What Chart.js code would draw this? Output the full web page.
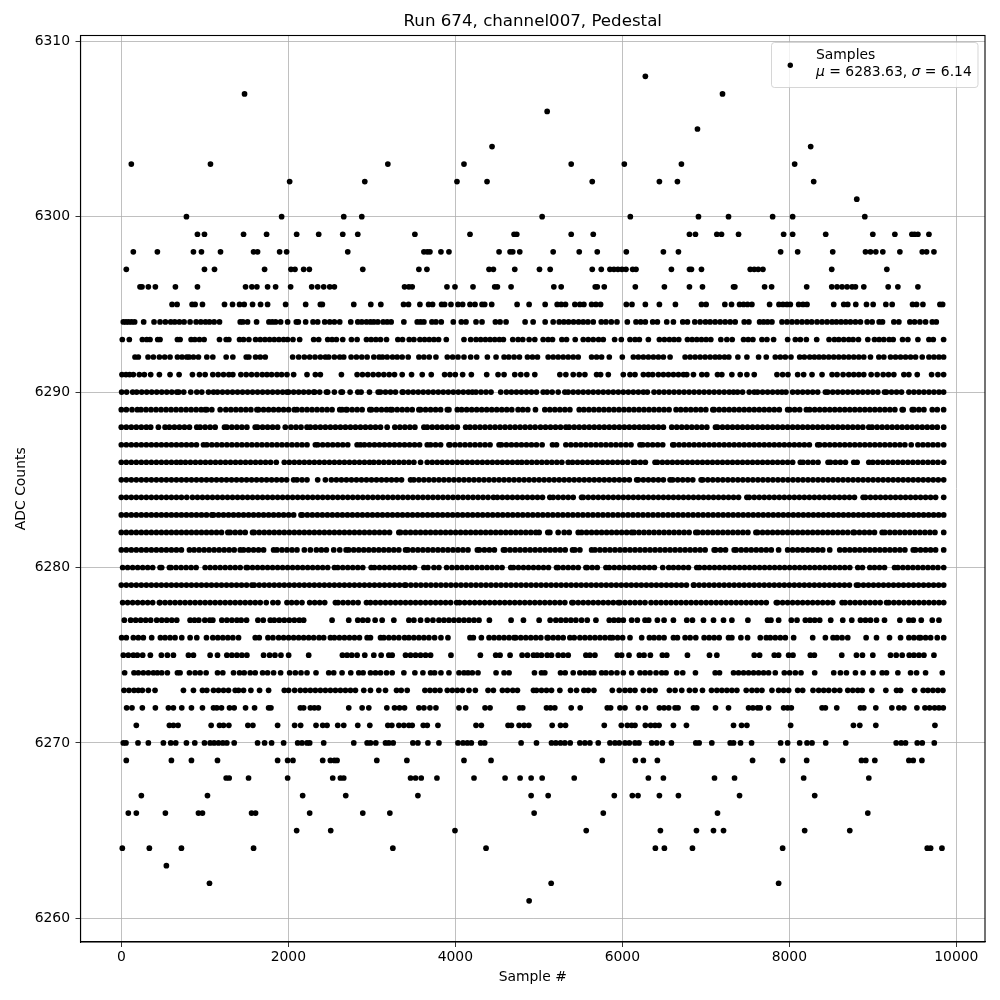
<!DOCTYPE html>
<html>
<head>
<meta charset="utf-8">
<script src="https://cdn.jsdelivr.net/npm/chart.js@4"></script>
<style>
body { margin: 0; background: #fff; }
canvas { display: block; }
</style>
</head>
<body>
<canvas id="miGrafica" width="1000" height="1000"></canvas>
<script>
const xTicks = [0, 2000, 4000, 6000, 8000, 10000];
const yTicks = [6260, 6270, 6280, 6290, 6300, 6310];
const titulo = "Run 674, channel007, Pedestal";
const etiquetaSerie = "Samples";
const media = "6283.63";
const sigma = "6.14";

// sample numbers, one list per ADC value
const adc6308 = [6276];
const adc6307 = [1476, 7200];
const adc6306 = [5100];
const adc6305 = [6900];
const adc6304 = [4440, 8256];
const adc6303 = [120, 1068, 3192, 4104, 5388, 6024, 6708, 8064];
const adc6302 = [2016, 2916, 4020, 4380, 5640, 6444, 6660, 8292];
const adc6301 = [8808];
const adc6300 = [780, 1920, 2664, 2880, 5040, 6096, 6912, 7272, 7800, 8040, 8904];
const adc6299 = [912, 996, 1464, 1740, 2100, 2364, 2652, 2832, 3516, 4176, 4704, 4736, 5388, 5652, 6804, 6876, 7132, 7188, 7392, 7932, 8040, 8436, 9000, 9264, 9468, 9500, 9540, 9672];
const adc6298 = [144, 432, 864, 960, 1188, 1584, 1632, 1896, 1980, 2712, 3624, 3664, 3696, 3828, 3924, 4524, 4656, 4688, 4772, 5172, 5484, 5700, 6048, 6492, 6672, 7896, 8100, 8520, 8912, 8972, 9036, 9120, 9324, 9592, 9644, 9732];
const adc6297 = [60, 996, 1116, 1716, 2032, 2080, 2184, 2252, 2892, 3564, 3660, 4404, 4456, 4712, 5008, 5136, 5640, 5748, 5852, 5900, 5948, 5996, 6044, 6124, 6164, 6588, 6804, 6828, 6948, 7532, 7580, 7628, 7684, 8508, 9168];
const adc6296 = [224, 248, 324, 408, 648, 912, 1488, 1564, 1624, 1752, 1848, 2028, 2280, 2352, 2424, 2496, 2552, 3392, 3444, 3484, 3900, 3996, 4212, 4472, 4504, 4668, 5180, 5268, 5676, 5700, 5784, 6156, 6504, 6804, 6960, 7332, 7348, 7704, 7788, 8208, 8508, 8572, 8632, 8692, 8752, 8792, 8892, 9184, 9300, 9540];
const adc6295 = [608, 668, 848, 884, 972, 1236, 1332, 1416, 1472, 1572, 1668, 1752, 1968, 2208, 2384, 2408, 2784, 2988, 3108, 3380, 3440, 3576, 3680, 3728, 3836, 3872, 3948, 4032, 4088, 4176, 4236, 4320, 4352, 4436, 4740, 4884, 5076, 5220, 5268, 5320, 5432, 5492, 5540, 5632, 5684, 5740, 6048, 6116, 6276, 6444, 6636, 6948, 7004, 7228, 7308, 7404, 7452, 7500, 7552, 7764, 7876, 7924, 7972, 8012, 8112, 8164, 8212, 8532, 8652, 8700, 8796, 8924, 9004, 9156, 9232, 9476, 9524, 9600, 9804, 9836];
const adc6294 = [24, 56, 88, 124, 160, 268, 392, 464, 528, 592, 640, 696, 752, 824, 896, 952, 1008, 1056, 1112, 1176, 1424, 1456, 1512, 1620, 1768, 1808, 1848, 1908, 1992, 2096, 2120, 2208, 2296, 2352, 2436, 2496, 2552, 2616, 2748, 2832, 2880, 2936, 2984, 3024, 3072, 3136, 3184, 3232, 3384, 3544, 3584, 3624, 3720, 3768, 3832, 3976, 4072, 4128, 4248, 4320, 4480, 4536, 4608, 4836, 4932, 5076, 5172, 5244, 5300, 5356, 5416, 5476, 5532, 5588, 5652, 5748, 5804, 5868, 5936, 6060, 6164, 6220, 6276, 6364, 6420, 6532, 6612, 6724, 6780, 6868, 6932, 6996, 7052, 7112, 7172, 7232, 7292, 7352, 7460, 7516, 7644, 7692, 7740, 7792, 7912, 7972, 8032, 8092, 8152, 8212, 8268, 8332, 8392, 8452, 8512, 8564, 8620, 8676, 8732, 8792, 8852, 8932, 8992, 9076, 9116, 9252, 9312, 9444, 9500, 9564, 9632, 9712, 9760];
const adc6293 = [12, 96, 252, 304, 344, 436, 464, 672, 704, 836, 880, 936, 992, 1176, 1256, 1288, 1416, 1464, 1528, 1608, 1664, 1720, 1776, 1832, 1888, 1944, 1992, 2056, 2136, 2304, 2364, 2472, 2524, 2576, 2652, 2756, 2824, 2936, 2992, 3048, 3104, 3176, 3312, 3368, 3448, 3504, 3576, 3632, 3688, 3744, 3800, 3892, 4104, 4184, 4248, 4304, 4360, 4416, 4472, 4528, 4576, 4688, 4752, 4808, 4884, 4952, 5052, 5112, 5164, 5276, 5332, 5436, 5532, 5592, 5652, 5716, 5772, 5908, 5988, 6092, 6152, 6204, 6312, 6444, 6504, 6564, 6620, 6676, 6780, 6836, 6892, 6948, 7004, 7060, 7180, 7252, 7316, 7452, 7508, 7564, 7672, 7732, 7812, 7980, 8072, 8132, 8204, 8328, 8476, 8540, 8592, 8652, 8712, 8764, 8828, 8940, 9020, 9076, 9132, 9196, 9244, 9356, 9420, 9540, 9672, 9724, 9848];
const adc6292 = [164, 204, 320, 384, 456, 520, 584, 672, 728, 784, 812, 864, 924, 1024, 1096, 1256, 1336, 1496, 1528, 1608, 1664, 1724, 2052, 2124, 2192, 2256, 2320, 2384, 2444, 2484, 2552, 2616, 2664, 2752, 2816, 2880, 2944, 3024, 3088, 3128, 3184, 3248, 3304, 3364, 3436, 3564, 3624, 3688, 3768, 3904, 3968, 4032, 4104, 4184, 4256, 4384, 4488, 4584, 4640, 4704, 4768, 4864, 4924, 4984, 5112, 5172, 5232, 5292, 5352, 5412, 5472, 5632, 5692, 5752, 5844, 6000, 6132, 6192, 6252, 6312, 6372, 6432, 6492, 6572, 6752, 6812, 6872, 6932, 6992, 7052, 7112, 7164, 7224, 7276, 7384, 7492, 7632, 7724, 7832, 7892, 7952, 8020, 8124, 8180, 8244, 8300, 8356, 8412, 8472, 8532, 8592, 8652, 8712, 8772, 8832, 8892, 8972, 9072, 9132, 9212, 9272, 9332, 9392, 9452, 9512, 9592, 9672, 9732, 9792, 9848];
const adc6291 = [8, 56, 100, 144, 216, 276, 352, 456, 584, 692, 852, 936, 1004, 1096, 1160, 1224, 1288, 1336, 1432, 1496, 1560, 1624, 1688, 1744, 1800, 1864, 1920, 1984, 2064, 2224, 2324, 2384, 2636, 2824, 2888, 2952, 3016, 3080, 3144, 3208, 3272, 3364, 3476, 3604, 3712, 3872, 3936, 4000, 4088, 4192, 4376, 4512, 4584, 4712, 4784, 4856, 4952, 5252, 5324, 5412, 5484, 5552, 5692, 5740, 5832, 6012, 6092, 6152, 6252, 6312, 6364, 6432, 6492, 6552, 6612, 6672, 6732, 6772, 6852, 6952, 7012, 7140, 7192, 7312, 7412, 7492, 7580, 7852, 7920, 7984, 8100, 8172, 8272, 8392, 8512, 8572, 8644, 8712, 8772, 8832, 8892, 8980, 9052, 9124, 9188, 9252, 9372, 9432, 9532, 9704, 9780, 9848];
const adc6290 = [4, 64, 136, 184, 244, 304, 364, 424, 484, 544, 604, 664, 688, 748, 832, 904, 964, 1044, 1104, 1152, 1212, 1272, 1332, 1392, 1452, 1512, 1572, 1632, 1692, 1752, 1812, 1872, 1932, 1984, 2004, 2064, 2124, 2184, 2244, 2304, 2316, 2376, 2456, 2472, 2552, 2632, 2648, 2740, 2832, 2872, 2972, 3076, 3104, 3164, 3224, 3284, 3364, 3376, 3436, 3496, 3556, 3616, 3676, 3736, 3796, 3856, 3916, 3976, 4036, 4096, 4156, 4204, 4248, 4308, 4368, 4428, 4544, 4612, 4672, 4732, 4792, 4852, 4912, 4972, 5052, 5100, 5160, 5232, 5312, 5352, 5412, 5472, 5532, 5592, 5652, 5712, 5772, 5832, 5892, 5952, 6012, 6072, 6132, 6192, 6252, 6300, 6380, 6440, 6500, 6560, 6620, 6680, 6740, 6800, 6860, 6920, 6980, 7040, 7100, 7160, 7220, 7280, 7332, 7380, 7440, 7520, 7580, 7620, 7680, 7740, 7800, 7860, 7912, 7960, 8040, 8100, 8160, 8220, 8280, 8340, 8432, 8460, 8520, 8580, 8640, 8700, 8760, 8820, 8880, 8940, 9000, 9060, 9140, 9164, 9224, 9284, 9344, 9432, 9492, 9552, 9612, 9672, 9732, 9792, 9848];
const adc6289 = [0, 60, 128, 192, 236, 296, 356, 416, 476, 536, 596, 656, 716, 776, 836, 896, 956, 1004, 1024, 1084, 1184, 1252, 1312, 1372, 1432, 1492, 1552, 1624, 1644, 1704, 1764, 1824, 1884, 1944, 2004, 2072, 2104, 2164, 2224, 2284, 2344, 2404, 2464, 2524, 2616, 2644, 2692, 2704, 2764, 2824, 2884, 2976, 2996, 3056, 3116, 3176, 3224, 3244, 3304, 3364, 3424, 3484, 3564, 3584, 3644, 3704, 3764, 3824, 3904, 3924, 4024, 4076, 4136, 4196, 4256, 4316, 4376, 4436, 4496, 4556, 4616, 4676, 4752, 4808, 4868, 4960, 5072, 5132, 5192, 5252, 5312, 5372, 5484, 5540, 5600, 5660, 5720, 5780, 5840, 5900, 5960, 6020, 6080, 6140, 6200, 6260, 6320, 6380, 6440, 6500, 6560, 6644, 6700, 6760, 6820, 6880, 6940, 7000, 7084, 7100, 7160, 7220, 7280, 7340, 7400, 7460, 7520, 7580, 7640, 7700, 7760, 7820, 7880, 7980, 8004, 8064, 8124, 8204, 8244, 8304, 8364, 8424, 8484, 8544, 8604, 8664, 8724, 8784, 8844, 8904, 8964, 9024, 9084, 9144, 9204, 9264, 9352, 9364, 9472, 9492, 9552, 9612, 9712, 9772, 9848];
const adc6288 = [0, 60, 120, 180, 240, 300, 352, 444, 524, 576, 636, 696, 756, 816, 904, 944, 1004, 1064, 1124, 1236, 1264, 1324, 1384, 1444, 1504, 1604, 1632, 1692, 1752, 1812, 1872, 1964, 2032, 2092, 2152, 2224, 2264, 2324, 2384, 2444, 2504, 2564, 2624, 2684, 2744, 2804, 2864, 2924, 2984, 3044, 3104, 3184, 3276, 3336, 3396, 3456, 3516, 3624, 3664, 3724, 3784, 3844, 3904, 3964, 4024, 4124, 4176, 4236, 4296, 4356, 4416, 4476, 4536, 4596, 4656, 4716, 4776, 4836, 4896, 4956, 5020, 5080, 5140, 5200, 5260, 5324, 5364, 5424, 5484, 5544, 5604, 5664, 5724, 5784, 5844, 5904, 5964, 6024, 6084, 6144, 6204, 6260, 6312, 6372, 6432, 6492, 6592, 6652, 6712, 6772, 6832, 6892, 6952, 7012, 7116, 7140, 7200, 7260, 7320, 7380, 7440, 7500, 7560, 7620, 7680, 7740, 7800, 7860, 7920, 7980, 8040, 8100, 8160, 8220, 8280, 8340, 8400, 8460, 8520, 8580, 8640, 8700, 8760, 8820, 8880, 8952, 8992, 9052, 9112, 9172, 9232, 9292, 9352, 9412, 9472, 9532, 9592, 9652, 9712, 9772, 9849];
const adc6287 = [0, 60, 120, 180, 240, 300, 360, 420, 480, 540, 600, 660, 720, 780, 840, 900, 984, 1024, 1084, 1144, 1204, 1264, 1324, 1384, 1444, 1504, 1564, 1624, 1684, 1744, 1804, 1864, 1924, 1984, 2044, 2104, 2164, 2224, 2324, 2352, 2412, 2472, 2532, 2592, 2652, 2712, 2824, 2864, 2912, 2972, 3032, 3092, 3152, 3212, 3272, 3332, 3392, 3452, 3512, 3572, 3664, 3704, 3764, 3824, 3924, 3936, 3996, 4056, 4116, 4176, 4236, 4296, 4356, 4416, 4524, 4552, 4612, 4672, 4732, 4792, 4852, 4912, 4972, 5040, 5164, 5212, 5324, 5384, 5444, 5504, 5564, 5624, 5684, 5744, 5804, 5864, 5924, 5984, 6044, 6104, 6212, 6244, 6304, 6364, 6424, 6484, 6604, 6620, 6680, 6740, 6800, 6860, 6920, 6980, 7040, 7100, 7160, 7220, 7280, 7340, 7400, 7460, 7520, 7580, 7640, 7700, 7760, 7820, 7880, 7940, 8000, 8060, 8120, 8180, 8240, 8340, 8364, 8424, 8484, 8544, 8604, 8664, 8724, 8784, 8844, 8904, 8964, 9024, 9084, 9144, 9204, 9264, 9324, 9384, 9460, 9540, 9600, 9660, 9720, 9780, 9849];
const adc6286 = [0, 60, 120, 180, 240, 300, 360, 420, 480, 540, 600, 660, 712, 768, 828, 888, 948, 1008, 1068, 1128, 1188, 1248, 1308, 1368, 1428, 1488, 1548, 1608, 1668, 1728, 1788, 1856, 1952, 2012, 2072, 2132, 2192, 2252, 2312, 2372, 2432, 2492, 2552, 2612, 2672, 2732, 2792, 2852, 2912, 2972, 3024, 3084, 3144, 3204, 3264, 3324, 3384, 3444, 3504, 3584, 3664, 3724, 3784, 3844, 3904, 3964, 4024, 4084, 4144, 4204, 4264, 4324, 4384, 4444, 4504, 4564, 4624, 4684, 4744, 4796, 4856, 4916, 4976, 5036, 5096, 5156, 5216, 5276, 5352, 5404, 5464, 5524, 5584, 5644, 5704, 5764, 5824, 5884, 5944, 6004, 6064, 6132, 6156, 6216, 6276, 6392, 6420, 6480, 6540, 6600, 6660, 6720, 6780, 6840, 6900, 6960, 7020, 7080, 7140, 7200, 7260, 7320, 7380, 7440, 7500, 7560, 7620, 7680, 7740, 7800, 7860, 7920, 7980, 8040, 8132, 8164, 8224, 8284, 8344, 8464, 8492, 8552, 8612, 8672, 8772, 8812, 8952, 9000, 9060, 9120, 9180, 9240, 9300, 9360, 9420, 9480, 9540, 9600, 9660, 9720, 9780, 9849];
const adc6285 = [0, 60, 120, 180, 240, 300, 360, 420, 480, 540, 600, 660, 720, 780, 840, 900, 960, 1020, 1080, 1140, 1200, 1260, 1320, 1380, 1440, 1500, 1560, 1620, 1680, 1740, 1800, 1860, 1920, 1980, 2064, 2104, 2164, 2224, 2352, 2444, 2516, 2576, 2636, 2696, 2756, 2816, 2876, 2936, 2996, 3056, 3116, 3176, 3236, 3296, 3356, 3464, 3504, 3564, 3624, 3684, 3744, 3804, 3864, 3924, 3984, 4044, 4104, 4164, 4224, 4284, 4344, 4404, 4464, 4524, 4584, 4644, 4704, 4764, 4824, 4884, 4944, 5004, 5064, 5124, 5184, 5244, 5304, 5364, 5424, 5484, 5544, 5604, 5664, 5724, 5784, 5844, 5904, 5964, 6024, 6084, 6172, 6192, 6252, 6312, 6372, 6432, 6492, 6572, 6604, 6664, 6724, 6784, 6844, 6944, 6964, 7024, 7084, 7144, 7204, 7264, 7324, 7384, 7444, 7504, 7564, 7624, 7684, 7744, 7804, 7864, 7924, 7984, 8044, 8104, 8164, 8224, 8284, 8344, 8404, 8464, 8524, 8584, 8644, 8704, 8764, 8824, 8884, 8944, 9004, 9064, 9124, 9184, 9244, 9304, 9364, 9424, 9484, 9544, 9604, 9664, 9724, 9784, 9849];
const adc6284 = [0, 60, 120, 180, 240, 300, 360, 420, 480, 540, 600, 660, 720, 784, 852, 912, 972, 1032, 1092, 1152, 1212, 1272, 1332, 1392, 1452, 1512, 1572, 1632, 1692, 1752, 1812, 1872, 1932, 1992, 2052, 2112, 2172, 2232, 2292, 2352, 2412, 2472, 2532, 2592, 2652, 2712, 2772, 2832, 2892, 2952, 3012, 3072, 3132, 3192, 3252, 3312, 3372, 3432, 3492, 3552, 3612, 3672, 3732, 3792, 3852, 3912, 3972, 4032, 4092, 4152, 4212, 4272, 4332, 4392, 4456, 4504, 4564, 4624, 4684, 4744, 4804, 4864, 4924, 4984, 5044, 5132, 5172, 5232, 5292, 5352, 5412, 5512, 5532, 5592, 5652, 5712, 5772, 5832, 5892, 5952, 6012, 6072, 6132, 6192, 6252, 6312, 6372, 6432, 6492, 6552, 6612, 6672, 6732, 6792, 6852, 6912, 6972, 7032, 7092, 7152, 7212, 7272, 7332, 7392, 7492, 7520, 7580, 7640, 7700, 7760, 7820, 7880, 7940, 8000, 8060, 8120, 8180, 8240, 8300, 8360, 8420, 8480, 8540, 8600, 8660, 8720, 8780, 8884, 8912, 8972, 9032, 9092, 9152, 9212, 9272, 9332, 9392, 9452, 9512, 9572, 9632, 9692, 9752, 9849];
const adc6283 = [0, 60, 120, 180, 240, 300, 360, 420, 480, 540, 600, 660, 720, 780, 840, 900, 960, 1020, 1084, 1104, 1164, 1224, 1284, 1344, 1404, 1464, 1524, 1584, 1644, 1704, 1764, 1824, 1884, 1944, 2004, 2064, 2152, 2168, 2228, 2288, 2348, 2408, 2468, 2528, 2588, 2648, 2708, 2768, 2828, 2888, 2948, 3008, 3068, 3128, 3188, 3248, 3308, 3368, 3428, 3488, 3548, 3608, 3668, 3728, 3788, 3848, 3908, 3968, 4028, 4088, 4148, 4208, 4268, 4328, 4388, 4448, 4508, 4568, 4628, 4688, 4748, 4808, 4868, 4928, 4988, 5048, 5108, 5168, 5228, 5288, 5348, 5408, 5468, 5528, 5588, 5648, 5708, 5768, 5828, 5888, 5948, 6008, 6068, 6128, 6188, 6248, 6308, 6368, 6428, 6488, 6548, 6608, 6668, 6728, 6788, 6848, 6908, 6968, 7028, 7088, 7148, 7208, 7268, 7328, 7388, 7448, 7508, 7568, 7628, 7688, 7748, 7808, 7868, 7928, 7988, 8048, 8108, 8168, 8228, 8288, 8348, 8408, 8468, 8528, 8588, 8648, 8708, 8768, 8828, 8888, 8948, 9008, 9068, 9128, 9188, 9248, 9308, 9368, 9428, 9488, 9548, 9608, 9668, 9728, 9788, 9849];
const adc6282 = [0, 60, 120, 180, 240, 300, 360, 420, 480, 540, 600, 660, 720, 780, 840, 900, 960, 1020, 1080, 1140, 1200, 1276, 1304, 1364, 1424, 1484, 1572, 1592, 1652, 1712, 1772, 1832, 1892, 1952, 2012, 2072, 2132, 2192, 2252, 2312, 2372, 2432, 2492, 2552, 2612, 2672, 2732, 2792, 2852, 2912, 2972, 3032, 3092, 3152, 3212, 3324, 3344, 3404, 3464, 3524, 3584, 3644, 3704, 3764, 3824, 3884, 3944, 4004, 4064, 4124, 4184, 4244, 4304, 4364, 4424, 4484, 4544, 4604, 4664, 4724, 4784, 4844, 4904, 4964, 5004, 5108, 5132, 5232, 5304, 5364, 5472, 5512, 5572, 5632, 5692, 5752, 5812, 5872, 5932, 5992, 6052, 6112, 6140, 6200, 6260, 6320, 6380, 6440, 6500, 6560, 6620, 6680, 6740, 6800, 6880, 6904, 6964, 7024, 7084, 7144, 7204, 7264, 7324, 7384, 7444, 7504, 7600, 7620, 7680, 7740, 7800, 7860, 7920, 7980, 8040, 8100, 8160, 8220, 8280, 8340, 8400, 8460, 8520, 8580, 8640, 8700, 8764, 8780, 8840, 8900, 8960, 9020, 9112, 9144, 9204, 9264, 9324, 9384, 9444, 9504, 9564, 9624, 9684, 9744, 9849];
const adc6281 = [0, 60, 120, 180, 240, 300, 360, 420, 480, 540, 600, 660, 720, 816, 872, 932, 992, 1052, 1112, 1172, 1232, 1292, 1352, 1424, 1464, 1524, 1584, 1644, 1704, 1824, 1864, 1924, 1984, 2044, 2104, 2192, 2264, 2336, 2396, 2456, 2544, 2616, 2692, 2724, 2784, 2844, 2904, 2964, 3024, 3084, 3144, 3204, 3264, 3324, 3404, 3432, 3492, 3552, 3612, 3672, 3732, 3792, 3852, 3912, 3972, 4032, 4092, 4152, 4264, 4288, 4348, 4408, 4468, 4576, 4596, 4656, 4716, 4776, 4836, 4896, 4956, 5016, 5076, 5136, 5196, 5256, 5316, 5404, 5432, 5492, 5632, 5672, 5732, 5792, 5852, 5912, 5972, 6032, 6092, 6152, 6212, 6272, 6332, 6392, 6452, 6512, 6572, 6632, 6692, 6752, 6812, 6872, 6932, 6992, 7100, 7116, 7176, 7236, 7340, 7364, 7424, 7484, 7544, 7604, 7664, 7724, 7784, 7872, 7980, 8040, 8100, 8160, 8220, 8280, 8340, 8400, 8484, 8604, 8664, 8724, 8784, 8844, 8904, 8964, 9024, 9084, 9144, 9204, 9264, 9324, 9384, 9484, 9512, 9572, 9632, 9692, 9752, 9849];
const adc6280 = [16, 76, 136, 196, 256, 316, 376, 464, 484, 576, 596, 656, 716, 776, 836, 896, 1004, 1064, 1124, 1184, 1244, 1304, 1364, 1424, 1496, 1512, 1572, 1632, 1692, 1752, 1812, 1872, 1932, 1992, 2052, 2112, 2172, 2232, 2292, 2352, 2412, 2472, 2552, 2592, 2652, 2712, 2772, 2832, 2892, 2992, 3032, 3092, 3152, 3212, 3272, 3332, 3392, 3452, 3512, 3624, 3672, 3744, 3804, 3896, 3960, 4020, 4080, 4140, 4200, 4260, 4320, 4380, 4440, 4500, 4560, 4664, 4696, 4756, 4816, 4876, 4936, 4996, 5056, 5116, 5212, 5232, 5292, 5352, 5412, 5472, 5564, 5580, 5640, 5700, 5804, 5844, 5904, 5964, 6024, 6084, 6144, 6204, 6264, 6324, 6384, 6484, 6556, 6612, 6672, 6732, 6792, 6892, 6924, 6984, 7044, 7104, 7164, 7224, 7284, 7344, 7404, 7464, 7524, 7584, 7644, 7704, 7764, 7824, 7884, 7944, 8004, 8064, 8124, 8184, 8244, 8304, 8364, 8424, 8484, 8544, 8604, 8664, 8724, 8820, 8876, 8964, 9020, 9080, 9140, 9260, 9300, 9360, 9420, 9480, 9540, 9600, 9660, 9720, 9780, 9849];
const adc6279 = [0, 60, 120, 180, 240, 300, 360, 420, 480, 540, 600, 660, 720, 780, 840, 900, 960, 1020, 1080, 1140, 1200, 1260, 1320, 1380, 1440, 1500, 1564, 1592, 1652, 1712, 1772, 1832, 1892, 1952, 2012, 2072, 2132, 2192, 2252, 2312, 2372, 2432, 2492, 2552, 2612, 2672, 2732, 2792, 2852, 2912, 2972, 3032, 3092, 3152, 3212, 3272, 3332, 3392, 3408, 3468, 3528, 3588, 3648, 3708, 3768, 3828, 3888, 3948, 4008, 4068, 4128, 4188, 4248, 4308, 4368, 4428, 4488, 4548, 4608, 4668, 4728, 4788, 4848, 4908, 4968, 5028, 5088, 5148, 5208, 5268, 5328, 5388, 5448, 5508, 5568, 5628, 5688, 5748, 5808, 5868, 5928, 5988, 6048, 6108, 6168, 6228, 6288, 6348, 6408, 6468, 6528, 6588, 6648, 6708, 6768, 6852, 6860, 6920, 6980, 7040, 7100, 7160, 7220, 7280, 7340, 7400, 7460, 7520, 7580, 7640, 7700, 7760, 7820, 7880, 7940, 8000, 8060, 8120, 8180, 8240, 8300, 8360, 8420, 8480, 8540, 8600, 8660, 8720, 8804, 8828, 8888, 8948, 9008, 9068, 9128, 9188, 9248, 9308, 9368, 9428, 9488, 9548, 9608, 9668, 9728, 9788, 9849];
const adc6278 = [16, 76, 136, 196, 256, 316, 376, 456, 464, 524, 584, 644, 704, 764, 824, 884, 944, 1004, 1064, 1124, 1184, 1244, 1304, 1364, 1424, 1484, 1544, 1604, 1664, 1736, 1816, 1876, 1984, 2040, 2100, 2164, 2256, 2316, 2376, 2436, 2564, 2596, 2656, 2716, 2776, 2836, 2936, 2984, 3044, 3104, 3164, 3224, 3284, 3344, 3404, 3464, 3524, 3584, 3644, 3704, 3764, 3824, 3884, 3944, 4016, 4052, 4112, 4172, 4232, 4292, 4352, 4412, 4472, 4532, 4592, 4652, 4712, 4772, 4832, 4892, 4952, 5012, 5072, 5132, 5192, 5252, 5312, 5396, 5412, 5472, 5532, 5592, 5652, 5712, 5772, 5832, 5892, 5952, 5972, 6032, 6092, 6152, 6212, 6272, 6344, 6404, 6464, 6524, 6584, 6644, 6704, 6764, 6824, 6884, 6944, 7004, 7064, 7124, 7184, 7244, 7304, 7364, 7424, 7484, 7544, 7604, 7664, 7724, 7844, 7860, 7920, 7980, 8040, 8100, 8160, 8220, 8280, 8340, 8400, 8460, 8520, 8632, 8668, 8728, 8788, 8848, 8908, 8968, 9028, 9088, 9164, 9192, 9252, 9312, 9372, 9432, 9492, 9552, 9612, 9672, 9732, 9792, 9849];
const adc6277 = [36, 112, 172, 232, 292, 352, 424, 484, 544, 604, 664, 824, 876, 928, 1000, 1060, 1096, 1204, 1264, 1324, 1384, 1436, 1500, 1636, 1700, 1784, 1832, 1892, 1952, 2012, 2072, 2132, 2184, 2524, 2724, 2832, 2892, 2952, 3040, 3124, 3264, 3444, 3504, 3584, 3664, 3732, 3804, 3864, 3924, 3984, 4044, 4104, 4164, 4224, 4284, 4408, 4668, 4816, 5004, 5136, 5204, 5264, 5324, 5384, 5444, 5512, 5580, 5684, 5844, 5900, 5956, 6012, 6112, 6180, 6272, 6316, 6420, 6500, 6612, 6772, 6840, 6972, 7092, 7212, 7312, 7504, 7740, 7780, 7872, 8024, 8092, 8192, 8248, 8304, 8364, 8496, 8640, 8748, 8852, 8912, 8972, 9044, 9140, 9324, 9432, 9484, 9580, 9712, 9792];
const adc6276 = [4, 60, 144, 204, 264, 364, 468, 524, 584, 644, 724, 824, 904, 1020, 1096, 1156, 1216, 1276, 1336, 1404, 1604, 1652, 1756, 1816, 1884, 1944, 2004, 2064, 2124, 2184, 2244, 2304, 2368, 2424, 2504, 2552, 2612, 2672, 2732, 2792, 2852, 2944, 2984, 3104, 3144, 3204, 3264, 3324, 3392, 3444, 3504, 3564, 3624, 3684, 3752, 3828, 3912, 4176, 4216, 4312, 4404, 4464, 4524, 4584, 4644, 4704, 4724, 4784, 4844, 4904, 4964, 5024, 5100, 5112, 5172, 5232, 5292, 5372, 5424, 5492, 5552, 5612, 5672, 5732, 5792, 5852, 5884, 5944, 6004, 6092, 6232, 6324, 6380, 6440, 6500, 6612, 6660, 6752, 6812, 6880, 6980, 7040, 7100, 7160, 7272, 7312, 7420, 7500, 7652, 7724, 7772, 7832, 7892, 7952, 8052, 8280, 8432, 8524, 8572, 8632, 8700, 8920, 9044, 9200, 9332, 9432, 9492, 9552, 9572, 9632, 9692, 9772, 9849];
const adc6275 = [24, 84, 144, 192, 256, 348, 480, 552, 624, 804, 864, 1064, 1152, 1264, 1324, 1384, 1444, 1504, 1704, 1776, 1840, 1912, 2004, 2244, 2648, 2704, 2760, 2824, 2916, 3024, 3112, 3204, 3244, 3404, 3464, 3524, 3584, 3644, 3704, 3948, 4300, 4484, 4536, 4656, 4800, 4864, 4936, 4980, 5032, 5100, 5152, 5232, 5292, 5352, 5564, 5612, 5672, 5940, 5992, 6080, 6204, 6260, 6336, 6480, 6532, 6780, 7044, 7132, 7580, 7644, 7820, 7872, 7992, 8044, 8252, 8300, 8628, 8804, 8876, 9000, 9212, 9280, 9352, 9436, 9492, 9552, 9612, 9732];
const adc6274 = [40, 152, 204, 264, 324, 384, 432, 484, 552, 672, 704, 816, 884, 944, 1016, 1152, 1216, 1344, 1416, 1472, 1544, 1604, 1692, 1752, 1824, 1908, 2016, 2084, 2152, 2224, 2332, 2484, 2544, 2644, 2748, 2844, 2896, 2984, 3044, 3104, 3176, 3244, 3384, 3516, 3612, 3704, 3752, 3828, 3924, 4044, 4104, 4152, 4204, 4272, 4488, 4584, 4644, 4948, 5032, 5072, 5260, 5316, 5412, 5492, 5552, 5612, 5660, 5752, 5804, 5868, 5936, 6012, 6112, 6212, 6272, 6332, 6404, 6472, 6524, 6652, 6724, 6876, 7112, 7164, 7332, 7392, 7452, 7512, 7572, 7632, 7692, 7752, 7832, 7940, 8004, 8072, 8140, 8304, 8532, 8612, 8684, 8792, 8884, 9004, 9112, 9164, 9300, 9452, 9524, 9632, 9832];
const adc6273 = [32, 92, 152, 204, 252, 324, 404, 744, 864, 972, 1024, 1104, 1164, 1224, 1284, 1364, 1404, 1464, 1552, 1656, 1764, 1952, 2004, 2076, 2144, 2204, 2264, 2324, 2384, 2444, 2504, 2564, 2624, 2684, 2744, 2804, 2904, 2984, 3084, 3164, 3296, 3352, 3424, 3636, 3696, 3756, 3816, 3904, 3964, 4024, 4084, 4164, 4240, 4392, 4456, 4564, 4624, 4688, 4744, 4936, 4972, 5032, 5092, 5152, 5252, 5380, 5452, 5540, 5592, 5660, 5880, 5964, 6032, 6092, 6152, 6252, 6324, 6392, 6564, 6632, 6712, 6804, 6872, 6960, 7068, 7132, 7192, 7252, 7312, 7372, 7484, 7552, 7612, 7672, 7792, 7872, 7932, 7992, 8100, 8160, 8284, 8352, 8412, 8472, 8540, 8604, 8700, 8760, 8820, 8872, 8988, 9156, 9284, 9332, 9500, 9604, 9660, 9720, 9780, 9840];
const adc6272 = [64, 128, 252, 408, 564, 624, 724, 840, 972, 1104, 1144, 1200, 1296, 1352, 1488, 1596, 1764, 1792, 2144, 2184, 2264, 2312, 2360, 2724, 2884, 2964, 3180, 3272, 3332, 3392, 3564, 3624, 3696, 3768, 4044, 4124, 4356, 4416, 4768, 4808, 5092, 5140, 5192, 5388, 5496, 5820, 5860, 5972, 6032, 6192, 6276, 6444, 6500, 6556, 6632, 6668, 6852, 6892, 7116, 7272, 7512, 7564, 7620, 7652, 7752, 7932, 7980, 8024, 8392, 8432, 8568, 8852, 8892, 9036, 9228, 9312, 9372, 9528, 9624, 9680, 9740, 9792, 9844];
const adc6271 = [180, 576, 624, 680, 1076, 1176, 1224, 1288, 1516, 1576, 1872, 2076, 2148, 2332, 2412, 2464, 2592, 2664, 2832, 2976, 3192, 3240, 3324, 3384, 3444, 3484, 3616, 3664, 3792, 4248, 4312, 4632, 4672, 4764, 4824, 4880, 5160, 5260, 5320, 5784, 5988, 6060, 6112, 6152, 6276, 6340, 6392, 6440, 6612, 6768, 7332, 7428, 7492, 8016, 8768, 8844, 9036, 9744];
const adc6270 = [24, 56, 200, 324, 504, 592, 652, 780, 880, 996, 1064, 1112, 1164, 1216, 1264, 1352, 1632, 1716, 1800, 1944, 2112, 2164, 2224, 2256, 2424, 2784, 2944, 2984, 3048, 3164, 3204, 3256, 3492, 3552, 3672, 3804, 4032, 4092, 4144, 4192, 4304, 4352, 4788, 4972, 5152, 5204, 5260, 5312, 5376, 5492, 5552, 5612, 5712, 5852, 5912, 5964, 6032, 6084, 6152, 6200, 6352, 6412, 6480, 6588, 6880, 6920, 7072, 7292, 7332, 7416, 7548, 7896, 7980, 8124, 8212, 8272, 8436, 8676, 9280, 9340, 9392, 9532, 9592, 9736];
const adc6269 = [60, 600, 840, 1152, 1872, 1992, 2056, 2412, 2504, 2552, 2584, 3060, 3420, 4104, 4428, 5760, 6156, 6252, 6420, 7560, 7920, 8208, 8864, 8916, 9024, 9432, 9484, 9588];
const adc6268 = [1256, 1292, 1524, 1992, 2532, 2624, 2664, 3464, 3524, 3592, 3780, 4224, 4596, 4776, 4908, 5040, 5424, 6312, 6492, 7104, 7344, 8172, 8952];
const adc6267 = [240, 1032, 2172, 2688, 3552, 4908, 5112, 5904, 6120, 6188, 6444, 6672, 7404, 8304];
const adc6266 = [84, 180, 528, 924, 972, 1560, 1608, 2256, 2892, 3216, 4944, 5772, 7140, 8940];
const adc6265 = [2100, 2508, 3996, 5568, 6456, 6888, 7092, 7212, 8184, 8724];
const adc6264 = [12, 336, 720, 1584, 3252, 4368, 6396, 6504, 6840, 7920, 9652, 9692, 9828];
const adc6263 = [540];
const adc6262 = [1056, 5148, 7872];
const adc6261 = [4884];

const niveles = [6261, 6262, 6263, 6264, 6265, 6266, 6267, 6268, 6269, 6270, 6271, 6272, 6273, 6274, 6275, 6276, 6277, 6278, 6279, 6280, 6281, 6282, 6283, 6284, 6285, 6286, 6287, 6288, 6289, 6290, 6291, 6292, 6293, 6294, 6295, 6296, 6297, 6298, 6299, 6300, 6301, 6302, 6303, 6304, 6305, 6306, 6307, 6308];
const muestras = [adc6261, adc6262, adc6263, adc6264, adc6265, adc6266, adc6267, adc6268, adc6269, adc6270, adc6271, adc6272, adc6273, adc6274, adc6275, adc6276, adc6277, adc6278, adc6279, adc6280, adc6281, adc6282, adc6283, adc6284, adc6285, adc6286, adc6287, adc6288, adc6289, adc6290, adc6291, adc6292, adc6293, adc6294, adc6295, adc6296, adc6297, adc6298, adc6299, adc6300, adc6301, adc6302, adc6303, adc6304, adc6305, adc6306, adc6307, adc6308];

const puntos = niveles.flatMap((nivel, i) => muestras[i].map(x => ({ x: x, y: nivel })));

const fuente = '"DejaVu Sans"';

// box around the plot plus the legend, drawn on top of the points
const marcoYLeyenda = {
    id: "marcoYLeyenda",
    afterDatasetsDraw(chart) {
        const c = chart.ctx;
        const a = chart.chartArea;
        c.save();
        c.strokeStyle = "#000";
        c.lineWidth = 1.1;
        c.strokeRect(a.left, a.top, a.right - a.left, a.bottom - a.top);

        c.beginPath();
        c.roundRect(771.5, 42.5, 206.5, 45, 3);
        c.fillStyle = "rgba(255,255,255,0.8)";
        c.fill();
        c.strokeStyle = "rgba(204,204,204,0.8)";
        c.lineWidth = 1;
        c.stroke();

        c.beginPath();
        c.arc(790.3, 65.3, 2.7, 0, Math.PI * 2);
        c.fillStyle = "#000";
        c.fill();

        c.textBaseline = "alphabetic";
        c.font = "13.9px " + fuente;
        c.fillText(etiquetaSerie, 816, 59);
        let x = 816;
        const partes = [["\u03bc", true], [" = " + media + ", ", false], ["\u03c3", true], [" = " + sigma, false]];
        partes.forEach(p => {
            c.font = (p[1] ? "italic " : "") + "13.9px " + fuente;
            c.fillText(p[0], x, 76);
            x += c.measureText(p[0]).width;
        });
        c.restore();
    }
};

const ctx = document.getElementById("miGrafica").getContext("2d");
new Chart(ctx, {
    type: "scatter",
    data: {
        datasets: [{
            label: etiquetaSerie,
            data: puntos,
            backgroundColor: "#000",
            borderColor: "#000",
            pointRadius: 2.85,
            pointBorderWidth: 0
        }]
    },
    options: {
        responsive: false,
        animation: false,
        layout: { padding: { right: 15 } },
        plugins: {
            legend: { display: false },
            tooltip: { enabled: false },
            title: {
                display: true,
                text: titulo,
                fullSize: false,
                color: "#000",
                font: { family: fuente, size: 16.67, weight: "normal" },
                padding: { top: 12, bottom: 3.5 }
            }
        },
        scales: {
            x: {
                type: "linear",
                min: -488.6,
                max: 10343.5,
                afterBuildTicks: s => { s.ticks = xTicks.map(v => ({ value: v })); },
                afterFit: s => { s.height = 58; },
                grid: { color: "#b0b0b0", lineWidth: 0.8, tickColor: "#000", tickLength: 5 },
                border: { color: "#000", width: 1.1 },
                ticks: { color: "#000", maxRotation: 0, padding: 2, font: { family: fuente, size: 13.9 }, callback: v => String(v) },
                title: { display: true, text: "Sample #", color: "#000", font: { family: fuente, size: 13.9 }, padding: { top: 0, bottom: 14.7 } }
            },
            y: {
                type: "linear",
                min: 6258.65,
                max: 6310.33,
                afterBuildTicks: s => { s.ticks = yTicks.map(v => ({ value: v })); },
                afterFit: s => { s.width = 80.5; },
                grid: { color: "#b0b0b0", lineWidth: 0.8, tickColor: "#000", tickLength: 5 },
                border: { color: "#000", width: 1.1 },
                ticks: { color: "#000", padding: 5.5, font: { family: fuente, size: 13.9 }, callback: v => String(v) },
                title: { display: true, text: "ADC Counts", color: "#000", font: { family: fuente, size: 13.9 }, padding: { top: 12.7, bottom: 0 } }
            }
        }
    },
    plugins: [marcoYLeyenda]
});
</script>
</body>
</html>
